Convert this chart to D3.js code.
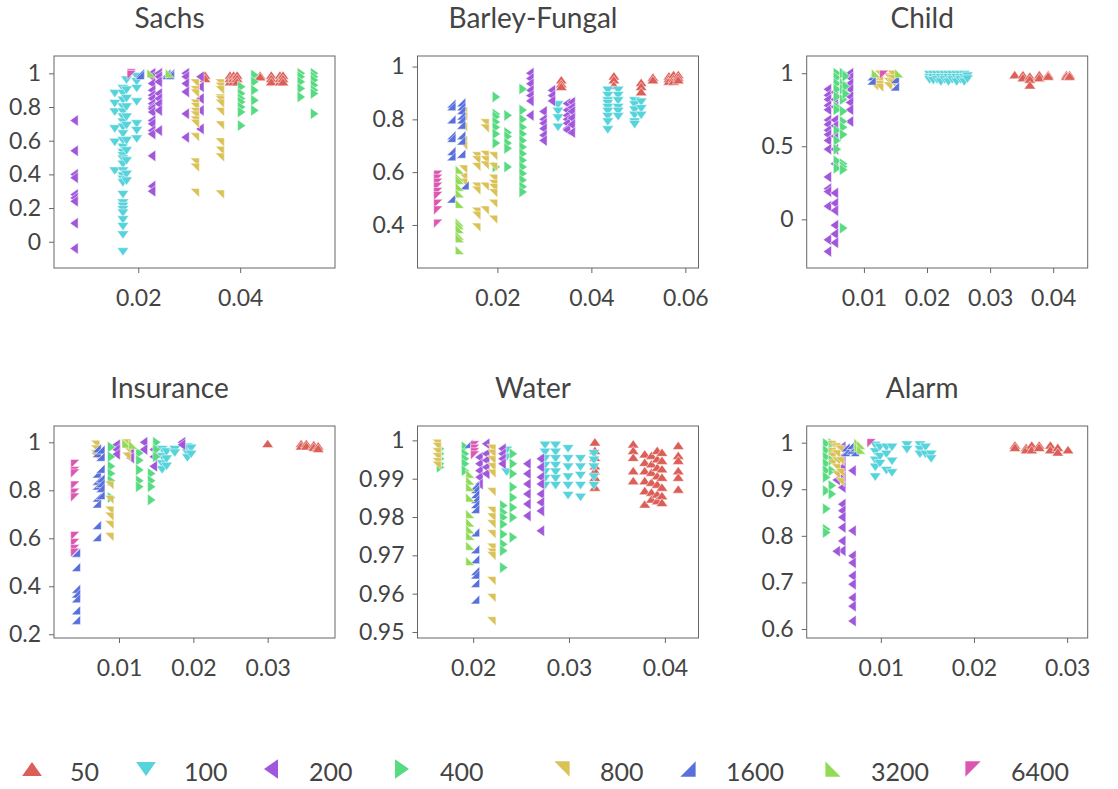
<!DOCTYPE html>
<html>
<head>
<meta charset="utf-8">
<script src="https://cdn.jsdelivr.net/npm/d3@7"></script>
<style>
  body { margin: 0; background: #fff; }
  text { font-family: Lato, "Open Sans", sans-serif; fill: #444; }
</style>
</head>
<body>
<figure id="chart" style="margin:0"></figure>
<script>
// series (legend order)
const seriesNames = [50, 100, 200, 400, 800, 1600, 3200, 6400];
const seriesColors = ["#db5f57", "#57d3db", "#a157db", "#57db80", "#dbc257", "#5770db", "#91db57", "#db57b2"];

const panelTitles = ["Sachs", "Barley-Fungal", "Child", "Insurance", "Water", "Alarm"];

// tick labels
const xTicks = [
  [0.02, 0.04], [0.02, 0.04, 0.06], [0.01, 0.02, 0.03, 0.04],
  [0.01, 0.02, 0.03], [0.02, 0.03, 0.04], [0.01, 0.02, 0.03]
];
const yTicks = [
  [0, 0.2, 0.4, 0.6, 0.8, 1], [0.4, 0.6, 0.8, 1], [0, 0.5, 1],
  [0.2, 0.4, 0.6, 0.8, 1], [0.95, 0.96, 0.97, 0.98, 0.99, 1], [0.6, 0.7, 0.8, 0.9, 1]
];
const xDomains = [[0.00347, 0.0586], [0.0030, 0.0628], [0.00093, 0.04547], [0.00125, 0.03906], [0.01419, 0.04351], [0.00204, 0.03221]];
const yDomains = [[-0.156, 1.103], [0.237, 1.040], [-0.333, 1.118], [0.1845, 1.068], [0.94843, 1.00375], [0.5806, 1.0358]];

// points: [series, x, [y values]]
const sachs = [
  [200, 0.0074, [0.72, 0.54, 0.40, 0.38, 0.28, 0.26, 0.24, 0.11, -0.04]],
  [200, 0.0226, [1.0, 0.98, 0.94, 0.90, 0.87, 0.85, 0.82, 0.80, 0.79, 0.77, 0.72, 0.70, 0.66, 0.64, 0.51, 0.33, 0.30]],
  [200, 0.0239, [1.0, 0.98, 0.95, 0.88, 0.85, 0.82, 0.78, 0.66]],
  [200, 0.0292, [1.0, 0.98, 0.94, 0.89, 0.76, 0.62]],
  [200, 0.0321, [0.98, 0.92, 0.85, 0.78, 0.67]],
  [100, 0.0154, [0.88, 0.82, 0.77, 0.67, 0.59, 0.42]],
  [100, 0.0170, [0.91, 0.88, 0.84, 0.80, 0.77, 0.74, 0.71, 0.68, 0.64, 0.60, 0.56, 0.53, 0.51, 0.49, 0.46, 0.42, 0.39, 0.37, 0.35, 0.28, 0.23, 0.21, 0.19, 0.17, 0.13, 0.09, 0.04, -0.06]],
  [100, 0.0177, [0.96, 0.90, 0.85, 0.80, 0.74, 0.69, 0.60, 0.54, 0.48, 0.40, 0.36]],
  [100, 0.0197, [0.98, 0.95, 0.91, 0.83, 0.70, 0.66, 0.61]],
  [800, 0.0311, [0.94, 0.90, 0.88, 0.82, 0.80, 0.77, 0.75, 0.72, 0.70, 0.62, 0.47, 0.44, 0.29]],
  [800, 0.0360, [0.94, 0.92, 0.90, 0.85, 0.84, 0.82, 0.77, 0.69, 0.59, 0.54, 0.50, 0.28]],
  [400, 0.0403, [0.92, 0.88, 0.85, 0.83, 0.80, 0.77, 0.69]],
  [400, 0.0429, [0.99, 0.95, 0.90, 0.84, 0.78]],
  [400, 0.0520, [1.0, 0.98, 0.95, 0.91, 0.86]],
  [400, 0.0546, [1.0, 0.98, 0.96, 0.93, 0.90, 0.88, 0.76]],
  [50, 0.0331, [0.99, 0.97]],
  [50, 0.0380, [0.99, 0.97, 0.95]],
  [50, 0.0387, [0.99, 0.97, 0.95]],
  [50, 0.0394, [0.99, 0.97, 0.95]],
  [50, 0.0439, [0.99, 0.98]],
  [50, 0.0461, [0.99, 0.97, 0.95]],
  [50, 0.0478, [0.99, 0.97, 0.95]],
  [50, 0.0484, [0.99, 0.97, 0.95]],
  [1600, 0.0203, [1.0, 0.99]],
  [1600, 0.0255, [1.0, 0.99]],
  [1600, 0.0262, [1.0, 0.99]],
  [6400, 0.0187, [1.0, 0.99]],
  [3200, 0.0226, [1.0]],
  [3200, 0.0262, [1.0]]
];

const barley = [
  [6400, 0.0074, [0.59, 0.575, 0.56, 0.545, 0.525, 0.51, 0.48, 0.455, 0.405]],
  [1600, 0.0102, [0.86, 0.85, 0.80, 0.74, 0.73, 0.68, 0.66, 0.50]],
  [1600, 0.0123, [0.865, 0.85, 0.835, 0.815, 0.80, 0.78, 0.74, 0.72, 0.67]],
  [1600, 0.0130, [0.55]],
  [3200, 0.0120, [0.61, 0.58, 0.57, 0.545, 0.52, 0.48, 0.41, 0.40, 0.385, 0.36, 0.35, 0.305]],
  [800, 0.0127, [0.83, 0.81, 0.77, 0.72, 0.70, 0.61, 0.58, 0.56]],
  [800, 0.0155, [0.66, 0.645, 0.62, 0.545, 0.53, 0.45, 0.435, 0.39]],
  [800, 0.0173, [0.785, 0.765, 0.665, 0.645, 0.625, 0.545, 0.455]],
  [800, 0.0191, [0.66, 0.62, 0.575, 0.555, 0.54, 0.52, 0.48, 0.42]],
  [400, 0.0198, [0.885, 0.82, 0.81, 0.79, 0.77, 0.745, 0.71, 0.62]],
  [400, 0.0223, [0.815, 0.75, 0.735, 0.71, 0.69, 0.62]],
  [400, 0.0255, [0.915, 0.835, 0.80, 0.77, 0.745, 0.72, 0.695, 0.67, 0.645, 0.62, 0.595, 0.57, 0.545, 0.525]],
  [200, 0.0269, [0.975, 0.955, 0.935, 0.91, 0.89, 0.87, 0.815]],
  [200, 0.0297, [0.83, 0.80, 0.785, 0.765, 0.74, 0.72]],
  [200, 0.0315, [0.91, 0.89, 0.87]],
  [200, 0.0347, [0.86, 0.835, 0.815, 0.80, 0.785, 0.765, 0.76]],
  [200, 0.0357, [0.865, 0.845, 0.83, 0.805, 0.78, 0.75]],
  [100, 0.0329, [0.855, 0.83, 0.805, 0.77]],
  [100, 0.0435, [0.91, 0.89, 0.87, 0.86, 0.845, 0.83, 0.81, 0.79, 0.76]],
  [100, 0.0457, [0.91, 0.89, 0.87, 0.845, 0.83, 0.81]],
  [100, 0.0492, [0.87, 0.855, 0.835, 0.815, 0.79, 0.78]],
  [100, 0.0506, [0.865, 0.84, 0.815]],
  [50, 0.0336, [0.95, 0.935, 0.925]],
  [50, 0.0448, [0.965, 0.95, 0.93]],
  [50, 0.0506, [0.94, 0.925, 0.905]],
  [50, 0.0531, [0.96, 0.95]],
  [50, 0.0565, [0.965, 0.955, 0.945]],
  [50, 0.0575, [0.97, 0.955, 0.945]],
  [50, 0.0585, [0.97, 0.96, 0.95]]
];

const child = [
  [200, 0.0042, [0.89, 0.85, 0.82, 0.78, 0.75, 0.68, 0.65, 0.61, 0.58, 0.54, 0.48, 0.29, 0.21, 0.19, 0.09, -0.14, -0.22]],
  [200, 0.0053, [0.87, 0.82, 0.77, 0.68, 0.64, 0.57, 0.48, 0.38, 0.18, 0.11, 0.06, -0.04, -0.10, -0.16]],
  [200, 0.0077, [1.0, 0.97, 0.93, 0.89, 0.84, 0.80, 0.75, 0.67]],
  [400, 0.0058, [1.0, 0.97, 0.93, 0.89, 0.84, 0.77, 0.75, 0.61, 0.54, 0.48, 0.40, 0.35]],
  [400, 0.0068, [1.0, 0.93, 0.89, 0.82, 0.74, 0.67, 0.63, 0.58, 0.38, 0.36, 0.34, -0.06]],
  [400, 0.0072, [0.98, 0.91, 0.86]],
  [800, 0.0116, [0.96, 0.94, 0.91]],
  [800, 0.0124, [0.99, 0.95, 0.92, 0.90]],
  [800, 0.0138, [0.97, 0.94, 0.91]],
  [800, 0.0144, [0.99, 0.96, 0.93]],
  [1600, 0.0112, [0.98, 0.95]],
  [1600, 0.0149, [0.96, 0.91]],
  [6400, 0.0132, [0.99]],
  [3200, 0.0119, [1.0]],
  [3200, 0.0156, [1.0]],
  [100, 0.0204, [0.99, 0.97, 0.955]],
  [100, 0.0210, [0.99, 0.97, 0.95]],
  [100, 0.0216, [0.99, 0.97, 0.955]],
  [100, 0.0222, [0.99, 0.97, 0.94]],
  [100, 0.0228, [0.99, 0.97, 0.955]],
  [100, 0.0234, [0.99, 0.97, 0.94]],
  [100, 0.0240, [0.99, 0.97, 0.955]],
  [100, 0.0247, [0.99, 0.97, 0.94]],
  [100, 0.0253, [0.99, 0.97, 0.955]],
  [100, 0.0259, [0.99, 0.97, 0.94]],
  [100, 0.0264, [0.98, 0.96]],
  [50, 0.0339, [0.99]],
  [50, 0.0352, [0.99, 0.97]],
  [50, 0.0363, [0.98, 0.96, 0.92]],
  [50, 0.0378, [0.99, 0.97]],
  [50, 0.0392, [0.99, 0.98]],
  [50, 0.0421, [0.99, 0.98]],
  [50, 0.0426, [0.99, 0.98]]
];

const insurance = [
  [6400, 0.0041, [0.91, 0.88, 0.87, 0.82, 0.79, 0.77, 0.61, 0.58, 0.555, 0.54]],
  [1600, 0.0042, [0.54, 0.48, 0.39, 0.37, 0.35, 0.30, 0.26]],
  [1600, 0.0070, [0.975, 0.955, 0.87, 0.84, 0.82, 0.77, 0.745, 0.655, 0.605]],
  [1600, 0.0075, [0.97, 0.94, 0.89, 0.85, 0.83, 0.81, 0.78]],
  [800, 0.0068, [0.99, 0.97, 0.95, 0.94]],
  [800, 0.0087, [0.82, 0.76, 0.715, 0.69, 0.655, 0.605]],
  [800, 0.0110, [0.995, 0.97, 0.94]],
  [400, 0.0090, [0.98, 0.94, 0.90, 0.87, 0.84, 0.77]],
  [400, 0.0128, [0.955, 0.925, 0.885, 0.84, 0.815]],
  [400, 0.0144, [0.87, 0.84, 0.815, 0.76]],
  [400, 0.0151, [1.0, 0.97, 0.94]],
  [200, 0.0096, [0.99, 0.97, 0.95]],
  [200, 0.0115, [0.955, 0.935]],
  [200, 0.0133, [1.0, 0.97]],
  [200, 0.0146, [0.97, 0.94, 0.90]],
  [200, 0.0184, [1.0, 0.99]],
  [3200, 0.0110, [1.0, 0.995]],
  [3200, 0.0119, [0.99]],
  [100, 0.0158, [0.97, 0.94, 0.91, 0.885]],
  [100, 0.0164, [0.96, 0.93, 0.90]],
  [100, 0.0175, [0.97, 0.955]],
  [100, 0.0192, [0.98, 0.955, 0.935]],
  [100, 0.0197, [0.975, 0.95]],
  [50, 0.0300, [0.995]],
  [50, 0.0345, [0.995, 0.985]],
  [50, 0.0352, [0.995, 0.985]],
  [50, 0.0362, [0.99, 0.98]],
  [50, 0.0368, [0.985, 0.975]]
];

const water = [
  [800, 0.0162, [0.9991, 0.9983, 0.9969, 0.9956, 0.9943, 0.9934]],
  [400, 0.0166, [0.9978, 0.9965, 0.9952, 0.9939, 0.9930]],
  [400, 0.0192, [0.9983, 0.9965, 0.9952, 0.9939, 0.9921]],
  [3200, 0.0197, [0.9913, 0.9895, 0.9878, 0.9851, 0.9808, 0.9786, 0.9768, 0.9751, 0.9725, 0.9685]],
  [1600, 0.0195, [0.9991]],
  [1600, 0.0202, [0.9882, 0.9873, 0.9860, 0.9847, 0.9834, 0.9821, 0.9760, 0.9716, 0.9690, 0.9659, 0.9650, 0.9628, 0.9585]],
  [6400, 0.0202, [0.9987, 0.9978, 0.9969, 0.9961]],
  [200, 0.0206, [0.9956, 0.9939, 0.9921, 0.9904, 0.9886]],
  [200, 0.0213, [0.9991, 0.9965, 0.9948, 0.9930, 0.9913]],
  [200, 0.0230, [0.9978, 0.9965, 0.9952, 0.9939]],
  [200, 0.0256, [0.9939, 0.9913, 0.9886, 0.9860, 0.9834, 0.9803]],
  [200, 0.0270, [0.9952, 0.9930, 0.9904, 0.9886, 0.9860, 0.9838, 0.9816, 0.9764]],
  [800, 0.0219, [0.9978, 0.9965, 0.9948, 0.9930, 0.9913, 0.9865, 0.9816, 0.9799, 0.9781, 0.9755, 0.9720, 0.9707, 0.9698, 0.9633, 0.9589, 0.9528]],
  [400, 0.0232, [0.9830, 0.9812, 0.9799, 0.9781, 0.9755, 0.9729, 0.9712, 0.9668]],
  [400, 0.0242, [0.9965, 0.9939, 0.9913, 0.9878, 0.9851, 0.9825, 0.9799, 0.9747]],
  [100, 0.0235, [0.9974, 0.9956, 0.9917]],
  [100, 0.0275, [0.9987, 0.9969, 0.9952, 0.9934, 0.9917, 0.9900, 0.9882]],
  [100, 0.0286, [0.9987, 0.9969, 0.9952, 0.9934, 0.9917, 0.9900, 0.9882]],
  [100, 0.0299, [0.9978, 0.9952, 0.9930, 0.9904, 0.9882, 0.9856]],
  [100, 0.0312, [0.9952, 0.9930, 0.9908, 0.9882, 0.9851]],
  [100, 0.0326, [0.9965, 0.9948, 0.9930, 0.9904, 0.9882]],
  [50, 0.0327, [0.9996, 0.9974, 0.9956, 0.9934, 0.9921, 0.9904, 0.9878]],
  [50, 0.0367, [0.9991, 0.9974, 0.9956, 0.9921, 0.9895]],
  [50, 0.0379, [0.9965, 0.9943, 0.9921, 0.9895, 0.9869, 0.9834]],
  [50, 0.0386, [0.9961, 0.9939, 0.9917, 0.9891, 0.9865, 0.9847]],
  [50, 0.0392, [0.9974, 0.9952, 0.9930, 0.9908, 0.9886, 0.9860, 0.9843]],
  [50, 0.0397, [0.9969, 0.9948, 0.9926, 0.9904, 0.9878, 0.9856, 0.9838]],
  [50, 0.0414, [0.9987, 0.9961, 0.9948, 0.9921, 0.9904, 0.9873]]
];

const alarm = [
  [400, 0.0042, [0.998, 0.983, 0.969, 0.955, 0.94, 0.926, 0.897, 0.858, 0.814, 0.807]],
  [400, 0.0048, [0.998, 0.983, 0.962, 0.94, 0.908, 0.89]],
  [800, 0.0047, [0.995, 0.98, 0.97, 0.955]],
  [800, 0.0052, [0.99, 0.975, 0.96, 0.945, 0.93]],
  [800, 0.0056, [0.985, 0.96, 0.935, 0.915]],
  [200, 0.0058, [0.991, 0.969, 0.947, 0.926, 0.904, 0.868, 0.854, 0.84, 0.818, 0.789, 0.768]],
  [200, 0.0052, [0.92, 0.767]],
  [200, 0.0069, [0.94, 0.811, 0.757, 0.742, 0.714, 0.696, 0.667, 0.649, 0.617]],
  [1600, 0.0062, [0.99, 0.98]],
  [1600, 0.0068, [0.995, 0.985]],
  [1600, 0.0072, [0.99, 0.98]],
  [3200, 0.0076, [1.0, 0.99]],
  [3200, 0.0079, [0.995, 0.985]],
  [6400, 0.0090, [0.999]],
  [100, 0.0094, [0.994, 0.98, 0.962, 0.947, 0.926]],
  [100, 0.0099, [0.99, 0.97, 0.955]],
  [100, 0.0106, [0.99, 0.975, 0.94]],
  [100, 0.0112, [0.99, 0.96, 0.935]],
  [100, 0.0128, [0.995, 0.985]],
  [100, 0.0142, [0.995, 0.985, 0.975]],
  [100, 0.0148, [0.99, 0.975]],
  [100, 0.0154, [0.975, 0.965]],
  [50, 0.0244, [0.995, 0.99]],
  [50, 0.0256, [0.99, 0.985]],
  [50, 0.0262, [0.995, 0.985]],
  [50, 0.0270, [0.995, 0.99]],
  [50, 0.0282, [0.995, 0.985]],
  [50, 0.0290, [0.99, 0.98]],
  [50, 0.0301, [0.985]]
];

const panelPoints = [sachs, barley, child, insurance, water, alarm];

// layout
const width = 1118, height = 789;
const colLeft = [54, 417.5, 806.7];
const rowTop = [56, 426];
const pw = 281, ph = 212;
const titleShift = -25;
const legendX = [32, 146, 271, 402, 562, 688, 833, 973];

// marker shapes, one per series
function markerPath(i, k) {
  const w = 5.8 * k, h = 4.1 * k, a = 4.5 * k;
  const shapes = [
    [[0, -h], [w, h], [-w, h]],        // up
    [[0, h], [w, -h], [-w, -h]],       // down
    [[-h, 0], [h, -w], [h, w]],        // left
    [[h, 0], [-h, -w], [-h, w]],       // right
    [[-a, -a], [a, -a], [a, a]],       // top-right corner
    [[a, -a], [a, a], [-a, a]],        // bottom-right corner
    [[-a, -a], [-a, a], [a, a]],       // bottom-left corner
    [[-a, -a], [a, -a], [-a, a]]       // top-left corner
  ];
  return "M" + shapes[i].map(p => p.join(",")).join("L") + "Z";
}

const svg = d3.select("#chart")
  .append("svg")
  .attr("width", width)
  .attr("height", height);

panelTitles.forEach((title, p) => {
  const left = colLeft[p % 3], top = rowTop[Math.floor(p / 3)];
  const g = svg.append("g").attr("transform", "translate(" + left + "," + top + ")");

  const x = d3.scaleLinear().domain(xDomains[p]).range([0, pw]);
  const y = d3.scaleLinear().domain(yDomains[p]).range([ph, 0]);
  const fmt = d => String(+d.toFixed(4));

  // Add X axis
  const xa = g.append("g")
    .attr("transform", "translate(0," + ph + ")")
    .call(d3.axisBottom(x).tickValues(xTicks[p]).tickFormat(fmt).tickSize(5).tickPadding(17));
  xa.select(".domain").remove();
  xa.selectAll("line").attr("stroke", "#666");
  xa.selectAll("text").attr("font-size", 23).attr("fill", "#444");

  // Add Y axis
  const ya = g.append("g")
    .call(d3.axisLeft(y).tickValues(yTicks[p]).tickFormat(fmt).tickSize(5).tickPadding(8));
  ya.select(".domain").remove();
  ya.selectAll("line").attr("stroke", "#666");
  ya.selectAll("text").attr("font-size", 23).attr("fill", "#444");

  // frame
  g.append("rect")
    .attr("width", pw).attr("height", ph)
    .attr("fill", "none").attr("stroke", "#666").attr("stroke-width", 1);

  g.append("text")
    .attr("x", pw / 2 + titleShift).attr("y", -28)
    .attr("text-anchor", "middle")
    .attr("font-size", 28)
    .text(title);

  // Add dots
  const pts = [];
  panelPoints[p].forEach(([s, xv, ys]) => ys.forEach(yv => pts.push({ s: seriesNames.indexOf(s), x: xv, y: yv })));
  pts.sort((a, b) => a.s - b.s);

  g.append("g").selectAll("path")
    .data(pts)
    .enter()
    .append("path")
    .attr("transform", d => "translate(" + x(d.x) + "," + y(d.y) + ")")
    .attr("d", d => markerPath(d.s, 1))
    .attr("fill", d => seriesColors[d.s])
    .attr("stroke", "#fff")
    .attr("stroke-width", 0.5);
});

// legend
const legend = svg.append("g").attr("transform", "translate(0,769)");
seriesNames.forEach((name, i) => {
  legend.append("path")
    .attr("transform", "translate(" + legendX[i] + ",0)")
    .attr("d", markerPath(i, 1.7))
    .attr("fill", seriesColors[i]);
  legend.append("text")
    .attr("x", legendX[i] + 38)
    .attr("y", 12)
    .attr("font-size", 25)
    .text(name);
});
</script>
</body>
</html>
